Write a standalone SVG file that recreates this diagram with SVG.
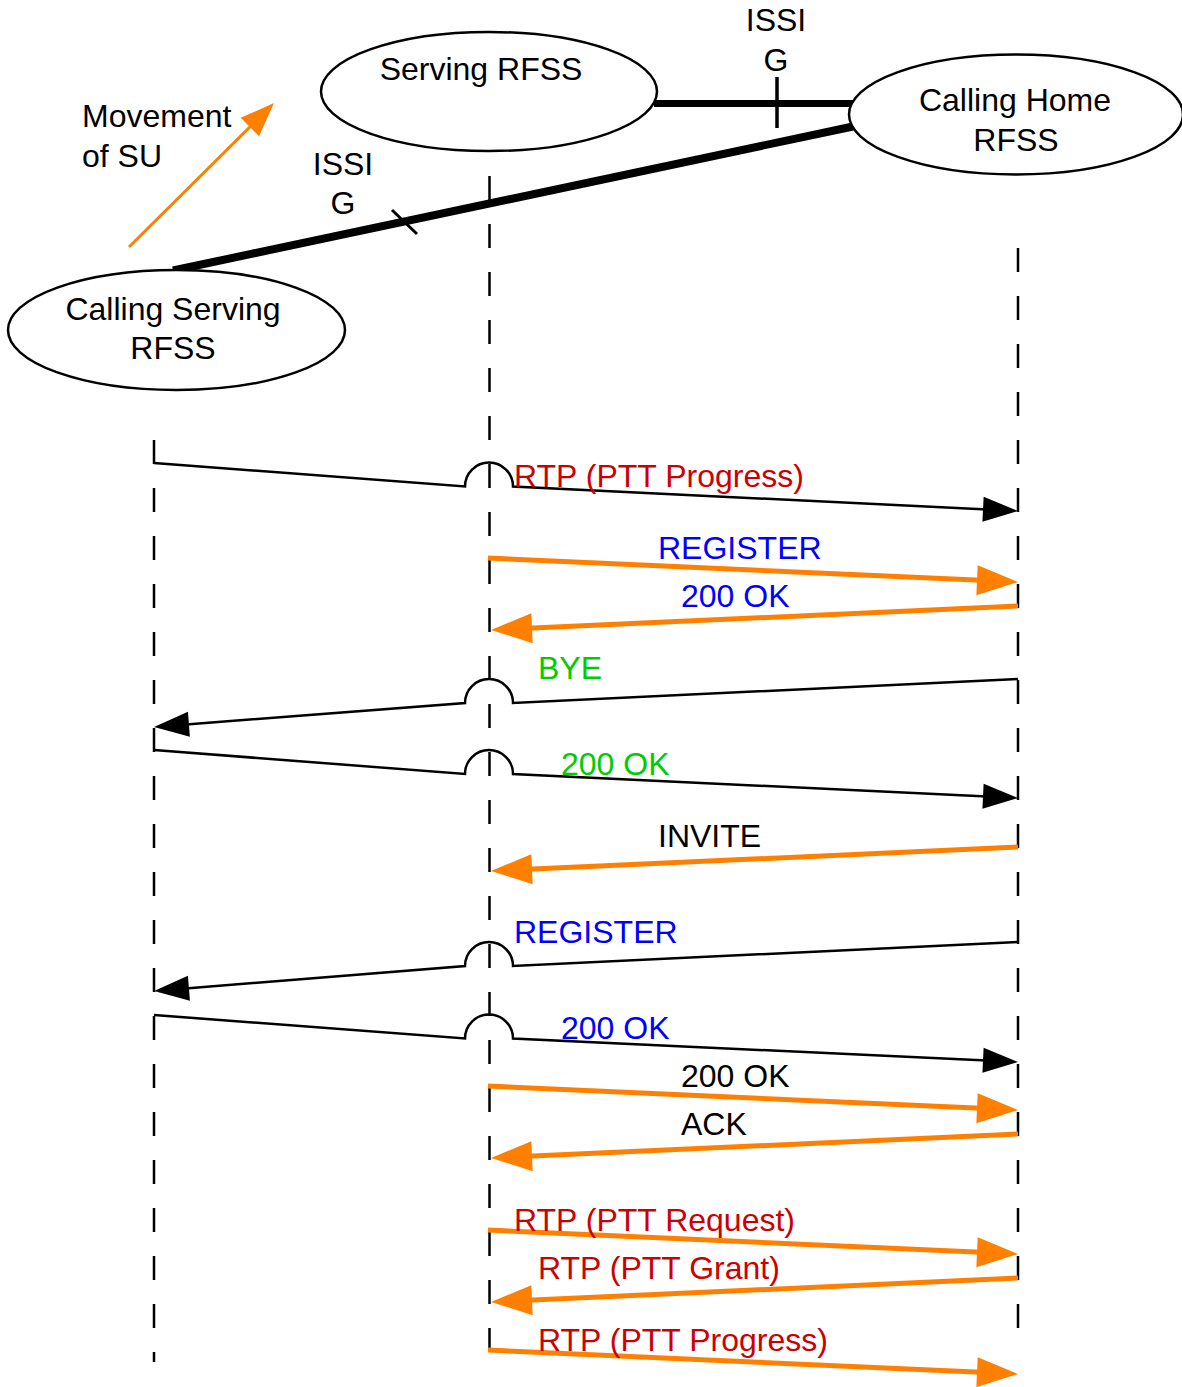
<svg xmlns="http://www.w3.org/2000/svg" width="1182" height="1387" viewBox="0 0 1182 1387">
<style>
  text { font-family: "Liberation Sans", Arial, sans-serif; font-size: 32px; fill: #000; }
  .mid { text-anchor: middle; }
  .red { fill: #CC0000; }
  .blue { fill: #0000FF; }
  .green { fill: #00CC00; }
  .node { fill: #fff; stroke: #000; stroke-width: 2.5; }
  .life { stroke: #000; stroke-width: 2.5; stroke-dasharray: 24 24; fill: none; }
  .msg { stroke: #000; stroke-width: 2.5; fill: none; marker-end: url(#ahB); }
  .omsg { stroke: #FF8000; stroke-width: 5; fill: none; marker-end: url(#ahO); }
  .link { stroke: #000; fill: none; }
</style>
<defs>
  <marker id="ahB" markerUnits="userSpaceOnUse" viewBox="-36 -14 37 28" markerWidth="37" markerHeight="28" refX="-10" refY="0" orient="auto">
    <path d="M0,0 L-35,-12.5 L-35,12.5 Z" fill="#000"/>
  </marker>
  <marker id="ahO" markerUnits="userSpaceOnUse" viewBox="-42 -16 43 32" markerWidth="43" markerHeight="32" refX="-20" refY="0" orient="auto">
    <path d="M0,0 L-41,-15 L-41,15 Z" fill="#FF8000"/>
  </marker>
  <marker id="ahM" markerUnits="userSpaceOnUse" viewBox="-36 -14 37 28" markerWidth="37" markerHeight="28" refX="-10" refY="0" orient="auto">
    <path d="M0,0 L-34,-13 L-34,13 Z" fill="#FF8000"/>
  </marker>
</defs>

<g id="lifelines">
  <line class="life" x1="154" y1="440" x2="154" y2="1362"/>
  <line class="life" x1="489.5" y1="176" x2="489.5" y2="1352"/>
  <line class="life" x1="1018" y1="248" x2="1018" y2="1330"/>
</g>

<g id="links">
  <line class="link" x1="654" y1="103.5" x2="853" y2="103.5" stroke-width="7"/>
  <line class="link" x1="777" y1="77" x2="777" y2="128" stroke-width="3.5"/>
  <line class="link" x1="173" y1="270.5" x2="853" y2="126.5" stroke-width="8"/>
  <line class="link" x1="392" y1="210" x2="417" y2="234" stroke-width="3"/>
</g>

<g id="serving-rfss">
  <ellipse class="node" cx="489" cy="91.5" rx="168" ry="59.5"/>
  <text class="mid" x="481" y="80">Serving RFSS</text>
</g>
<g id="calling-home-rfss">
  <ellipse class="node" cx="1016" cy="114.5" rx="167" ry="60"/>
  <text class="mid" x="1015" y="111">Calling Home</text>
  <text class="mid" x="1016" y="151">RFSS</text>
</g>
<g id="calling-serving-rfss">
  <ellipse class="node" cx="176.5" cy="330" rx="168.5" ry="60"/>
  <text class="mid" x="173" y="320">Calling Serving</text>
  <text class="mid" x="173" y="359">RFSS</text>
</g>

<g id="labels-top">
  <text class="mid" x="776" y="31">ISSI</text>
  <text class="mid" x="776" y="71">G</text>
  <text class="mid" x="343" y="175">ISSI</text>
  <text class="mid" x="343" y="214">G</text>
  <text x="82" y="127">Movement</text>
  <text x="82" y="167">of SU</text>
</g>

<g id="movement">
  <line x1="129" y1="247" x2="266.9" y2="110.1" stroke="#FF8000" stroke-width="3" marker-end="url(#ahM)"/>
</g>

<g id="connectors">
  <path class="msg" d="M154,463 L465,486.5 A24,24 0 0 1 513,486.5 L1008,510.5"/>
  <path class="omsg" d="M488,558 L998,581.1"/>
  <path class="omsg" d="M1018,606 L511,629.1"/>
  <path class="msg" d="M1018,679 L513,703 A24,24 0 0 0 465,703 L164,726.2"/>
  <path class="msg" d="M154,750 L465,774 A24,24 0 0 1 513,774 L1008,797.5"/>
  <path class="omsg" d="M1018,847 L511,870.1"/>
  <path class="msg" d="M1018,942 L513,966 A24,24 0 0 0 465,966 L164,990.2"/>
  <path class="msg" d="M154,1015 L465,1038.5 A24,24 0 0 1 513,1038.5 L1008,1061.5"/>
  <path class="omsg" d="M488,1086 L998,1109.1"/>
  <path class="omsg" d="M1018,1134 L511,1157.1"/>
  <path class="omsg" d="M488,1230 L998,1253.1"/>
  <path class="omsg" d="M1018,1278 L511,1301.1"/>
  <path class="omsg" d="M488,1350 L998,1373.1"/>
</g>

<g id="message-labels">
  <text class="red" x="514" y="487">RTP (PTT Progress)</text>
  <text class="blue" x="658" y="559">REGISTER</text>
  <text class="blue" x="681" y="607">200 OK</text>
  <text class="green" x="538" y="679">BYE</text>
  <text class="green" x="561" y="775">200 OK</text>
  <text x="658" y="847">INVITE</text>
  <text class="blue" x="514" y="943">REGISTER</text>
  <text class="blue" x="561" y="1039">200 OK</text>
  <text x="681" y="1087">200 OK</text>
  <text x="681" y="1135">ACK</text>
  <text class="red" x="514" y="1231">RTP (PTT Request)</text>
  <text class="red" x="538" y="1279">RTP (PTT Grant)</text>
  <text class="red" x="538" y="1351">RTP (PTT Progress)</text>
</g>
</svg>
